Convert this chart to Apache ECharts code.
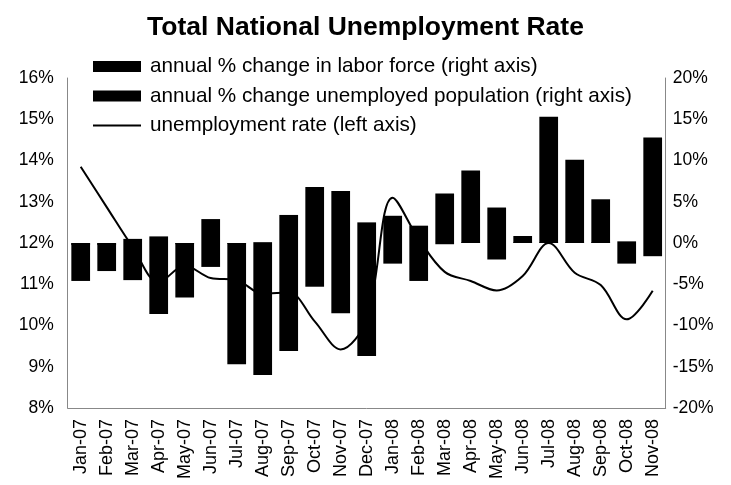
<!DOCTYPE html>
<html><head><meta charset="utf-8">
<script src="https://cdn.jsdelivr.net/npm/echarts@6/dist/echarts.min.js"></script>
<style>html,body{margin:0;padding:0;background:#fff}#c{width:731px;height:485px}</style>
</head><body><div id="c"></div>
<script>
const categories = ['Jan-07','Feb-07','Mar-07','Apr-07','May-07','Jun-07','Jul-07','Aug-07','Sep-07','Oct-07','Nov-07','Dec-07','Jan-08','Feb-08','Mar-08','Apr-08','May-08','Jun-08','Jul-08','Aug-08','Sep-08','Oct-08','Nov-08'];
const laborForceChange = [-0.25,-0.25,0.5,0.8,-0.15,2.9,-0.1,0.1,3.4,6.8,6.3,2.5,3.3,2.1,-0.15,0.1,-2.0,0.1,0.1,0.1,0.1,0.2,-1.6];
const unemployedChange = [-4.6,-3.4,-4.5,-8.6,-6.6,-2.9,-14.7,-16.0,-13.1,-5.3,-8.5,-13.7,-2.5,-4.6,6.0,8.8,4.3,0.85,15.3,10.1,5.3,-2.5,12.8];
const unemploymentRate = [13.85,12.87,11.9,11.05,11.45,11.15,11.1,10.77,10.8,10.1,9.42,10.15,13.1,12.1,11.3,11.08,10.85,11.2,12.0,11.28,10.98,10.15,10.84];
const leftTicks = {min:8, max:16, interval:1};
const rightTicks = {min:-20, max:20, interval:5};
const names = ['annual % change in labor force (right axis)','annual % change unemployed population (right axis)','unemployment rate (left axis)'];

const chart = echarts.init(document.getElementById('c'));
const font = 'Liberation Sans, Arial, sans-serif';
chart.setOption({
  animation:false,
  textStyle:{fontFamily:font},
  title:{text:'Total National Unemployment Rate',left:'center',top:9,
    textStyle:{fontFamily:font,fontSize:26.5,fontWeight:'bold',color:'#000'}},
  legend:{orient:'vertical',left:93,top:56,padding:0,itemWidth:48,itemHeight:11,itemGap:8.5,
    data:[{name:names[0],icon:'rect'},{name:names[1],icon:'rect'},{name:names[2],icon:'path://M0,0L48,0L48,2L0,2Z'}],
    textStyle:{fontFamily:font,fontSize:20.7,color:'#000',lineHeight:20,padding:[0,0,0,4]}},
  grid:{left:67.7,right:65.3,top:78,bottom:77,containLabel:false},
  xAxis:{type:'category',data:categories,
    axisLine:{onZero:false,lineStyle:{color:'#888',width:1}},axisTick:{show:false},
    axisLabel:{rotate:90,color:'#000',fontSize:18,margin:11,interval:0,fontFamily:font}},
  yAxis:[
    {type:'value',min:leftTicks.min,max:leftTicks.max,interval:leftTicks.interval,
      splitLine:{show:false},axisLine:{show:true,lineStyle:{color:'#888'}},axisTick:{show:false},
      axisLabel:{formatter:'{value}%',color:'#000',fontSize:17.5,margin:14,fontFamily:font}},
    {type:'value',min:rightTicks.min,max:rightTicks.max,interval:rightTicks.interval,
      splitLine:{show:false},axisLine:{show:true,lineStyle:{color:'#888'}},axisTick:{show:false},
      axisLabel:{formatter:'{value}%',color:'#000',fontSize:17.5,margin:7,fontFamily:font}}
  ],
  series:[
    {name:names[2],type:'line',yAxisIndex:0,data:unemploymentRate,smooth:0.35,symbol:'none',
      z:1,lineStyle:{color:'#000',width:2},itemStyle:{color:'#000'}},
    {name:names[0],type:'bar',yAxisIndex:1,data:laborForceChange,barWidth:'72%',barGap:'-100%',
      z:5,itemStyle:{color:'#000'}},
    {name:names[1],type:'bar',yAxisIndex:1,data:unemployedChange,barWidth:'72%',barGap:'-100%',
      z:4,itemStyle:{color:'#000'}}
  ]
});
</script></body></html>
